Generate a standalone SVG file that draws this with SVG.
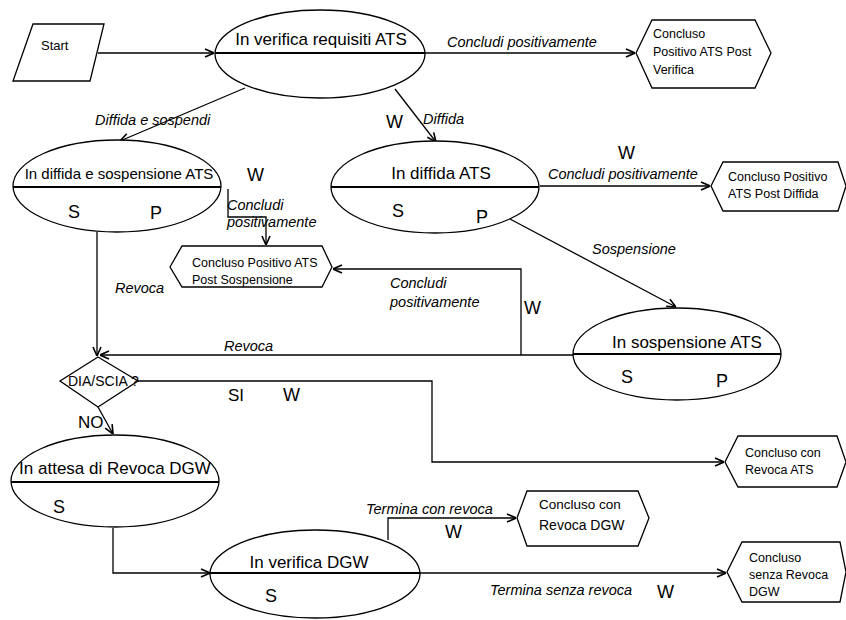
<svg xmlns="http://www.w3.org/2000/svg" width="846" height="620" viewBox="0 0 846 620">
<style>
text{font-family:"Liberation Sans",Arial,sans-serif;fill:#000}
.st{font-size:17px}
.sm{font-size:15px}
.hx{font-size:12.5px}
.lb{font-size:14.5px;font-style:italic}
.big{font-size:18px}
.shape{fill:#fff;stroke:#000;stroke-width:1.3}
.div{stroke:#000;stroke-width:2}
.con{fill:none;stroke:#000;stroke-width:1.3}
</style>
<defs>
<marker id="arr" viewBox="0 0 10 10" refX="10" refY="5" markerWidth="10" markerHeight="10" markerUnits="userSpaceOnUse" orient="auto">
<path d="M1,1 L10,5 L1,9" fill="none" stroke="#000" stroke-width="1.6"/>
</marker>
</defs>
<g id="connectors">
<path class="con" d="M98,53 H214" marker-end="url(#arr)"/>
<path class="con" d="M424,53 H635" marker-end="url(#arr)"/>
<path class="con" d="M245,88 L120,141" marker-end="url(#arr)"/>
<path class="con" d="M395,89 L436,142" marker-end="url(#arr)"/>
<path class="con" d="M228,189 V217 H266 V245" marker-end="url(#arr)"/>
<path class="con" d="M540,186 H710" marker-end="url(#arr)"/>
<path class="con" d="M510,219 L676,307" marker-end="url(#arr)"/>
<path class="con" d="M521,355 V269 H333" marker-end="url(#arr)"/>
<path class="con" d="M573,355 H100" marker-end="url(#arr)"/>
<path class="con" d="M97,232 V356" marker-end="url(#arr)"/>
<path class="con" d="M138,381 H432 V462 H724" marker-end="url(#arr)"/>
<path class="con" d="M98,407 L113,434" marker-end="url(#arr)"/>
<path class="con" d="M113,528 V573 H210" marker-end="url(#arr)"/>
<path class="con" d="M388,540 V518 H516" marker-end="url(#arr)"/>
<path class="con" d="M420,573 H726" marker-end="url(#arr)"/>
<text class="lb" x="447" y="47">Concludi positivamente</text>
<text class="lb" x="95" y="125">Diffida e sospendi</text>
<text class="big" x="386" y="128">W</text>
<text class="lb" x="423" y="124">Diffida</text>
<text class="big" x="247" y="181">W</text>
<text class="lb" x="227" y="210">Concludi</text>
<text class="lb" x="227" y="227">positivamente</text>
<text class="lb" x="115" y="293">Revoca</text>
<text class="big" x="618" y="159">W</text>
<text class="lb" x="548" y="179">Concludi positivamente</text>
<text class="lb" x="592" y="254">Sospensione</text>
<text class="lb" x="390" y="288">Concludi</text>
<text class="lb" x="390" y="307">positivamente</text>
<text class="big" x="524" y="314">W</text>
<text class="lb" x="224" y="351">Revoca</text>
<text class="st" x="228" y="401">SI</text>
<text class="big" x="283" y="401">W</text>
<text class="st" x="78" y="428">NO</text>
<text class="lb" x="366" y="514">Termina con revoca</text>
<text class="big" x="445" y="538">W</text>
<text class="lb" x="490" y="595">Termina senza revoca</text>
<text class="big" x="657" y="598">W</text>
</g>
<g id="start">
<polygon class="shape" points="33,24 104,24 90,81 13,81"/>
<text x="41" y="50" style="font-size:13px">Start</text>
</g>
<g id="verifica-requisiti">
<ellipse class="shape" cx="320" cy="54" rx="105" ry="44"/>
<line class="div" x1="215" y1="53" x2="425" y2="53"/>
<text class="st" x="321" y="45" text-anchor="middle">In verifica requisiti ATS</text>
</g>
<g id="concluso-post-verifica">
<polygon class="shape" points="636,53 652,20 755,20 771,53 755,88 652,88"/>
<text class="hx" x="653" y="38">Concluso</text>
<text class="hx" x="653" y="56">Positivo ATS Post</text>
<text class="hx" x="653" y="74">Verifica</text>
</g>
<g id="diffida-sospensione">
<ellipse class="shape" cx="117" cy="186" rx="104" ry="46"/>
<line class="div" x1="13" y1="187" x2="221" y2="187"/>
<text class="sm" x="119" y="179" text-anchor="middle">In diffida e sospensione ATS</text>
<text class="big" x="68" y="218">S</text>
<text class="big" x="150" y="219">P</text>
</g>
<g id="diffida">
<ellipse class="shape" cx="435" cy="187" rx="104" ry="46"/>
<line class="div" x1="331" y1="187" x2="539" y2="187"/>
<text class="st" x="441" y="179" text-anchor="middle">In diffida ATS</text>
<text class="big" x="392" y="217">S</text>
<text class="big" x="476" y="223">P</text>
</g>
<g id="concluso-post-diffida">
<polygon class="shape" points="711,186 723,162 838,162 846,186 838,211 723,211"/>
<text class="hx" x="728" y="181">Concluso Positivo</text>
<text class="hx" x="728" y="198">ATS Post Diffida</text>
</g>
<g id="concluso-post-sospensione">
<polygon class="shape" points="170,267 182,246 322,246 332,267 322,287 182,287"/>
<text class="hx" x="192" y="267">Concluso Positivo ATS</text>
<text class="hx" x="192" y="284">Post Sospensione</text>
</g>
<g id="sospensione">
<ellipse class="shape" cx="677" cy="354" rx="104" ry="46"/>
<line class="div" x1="573" y1="354" x2="781" y2="354"/>
<text class="st" x="687" y="348" text-anchor="middle">In sospensione ATS</text>
<text class="big" x="621" y="383">S</text>
<text class="big" x="716" y="387">P</text>
</g>
<g id="dia-scia">
<polygon class="shape" points="98,357 138,381 98,407 60,381"/>
<text x="68" y="386" style="font-size:14px">DIA/SCIA ?</text>
</g>
<g id="concluso-revoca-ats">
<polygon class="shape" points="725,462 738,436 837,436 846,462 837,487 738,487"/>
<text class="hx" x="745" y="457">Concluso con</text>
<text class="hx" x="745" y="474">Revoca ATS</text>
</g>
<g id="attesa-revoca-dgw">
<ellipse class="shape" cx="115" cy="481" rx="104" ry="46"/>
<line class="div" x1="11" y1="482" x2="219" y2="482"/>
<text class="st" x="115" y="474" text-anchor="middle">In attesa di Revoca DGW</text>
<text class="big" x="53" y="513">S</text>
</g>
<g id="verifica-dgw">
<ellipse class="shape" cx="315" cy="574" rx="105" ry="44"/>
<line class="div" x1="210" y1="573" x2="420" y2="573"/>
<text class="st" x="309" y="568" text-anchor="middle">In verifica DGW</text>
<text class="big" x="265" y="602">S</text>
</g>
<g id="concluso-revoca-dgw">
<polygon class="shape" points="517,518 527,491 638,491 649,518 638,546 527,546"/>
<text x="539" y="509" style="font-size:13.5px">Concluso con</text>
<text x="539" y="530" style="font-size:14px">Revoca DGW</text>
</g>
<g id="concluso-senza-revoca-dgw">
<polygon class="shape" points="727,572 742,542 840,542 846,572 840,602 742,602"/>
<text class="hx" x="749" y="562">Concluso</text>
<text class="hx" x="749" y="579">senza Revoca</text>
<text class="hx" x="749" y="596">DGW</text>
</g>
</svg>
